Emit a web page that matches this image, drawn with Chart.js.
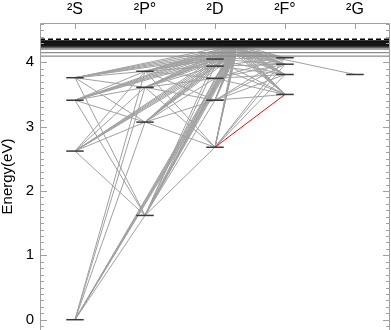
<!DOCTYPE html>
<html>
<head>
<meta charset="utf-8">
<script src="https://cdn.jsdelivr.net/npm/chart.js@4.4.1/dist/chart.umd.min.js"></script>
<style>
  html, body { margin: 0; padding: 0; background: #fff; overflow: hidden; }
  #wrap { width: 391px; height: 330px; }
</style>
</head>
<body>
<div id="wrap"><canvas id="grotrian"></canvas></div>
<script>
// term columns along the top
const terms = ['²S', '²P°', '²D', '²F°', '²G'];
const energyTicks = [0, 1, 2, 3, 4];

// levels: which term column, energy in eV
//                   S0  S1    S2    S3    P0    P1    P2    P3    D0    D1    D2    D3    D4    F0    F1    F2    F3    G0
const levelTerm   = [0,  0,    0,    0,    1,    1,    1,    1,    2,    2,    2,    2,    2,    3,    3,    3,    3,    4];
const levelEnergy = [0,  2.62, 3.41, 3.76, 1.62, 3.07, 3.61, 3.86, 2.68, 3.41, 3.75, 3.94, 4.05, 3.50, 3.81, 3.97, 4.07, 3.81];

// merged high levels, the lines run up to them
const highEnergy = [4.12, 4.16, 4.20, 4.24, 4.28];

// full width lines just below the limit
const bandEnergy = [4.096, 4.150, 4.204, 4.222, 4.235, 4.245, 4.255, 4.265, 4.275, 4.285, 4.295, 4.305, 4.315, 4.325, 4.333];
const limitEnergy = 4.359;

// transitions between levels (index into the arrays above)
const transitions = [
  [0, 4], [0, 5], [0, 6], [0, 7],
  [1, 4], [1, 5], [1, 6], [1, 7],
  [2, 4], [2, 5], [2, 6], [2, 7],
  [3, 4], [3, 5], [3, 6], [3, 7],
  [4, 8], [4, 9], [4, 10], [4, 11], [4, 12],
  [5, 8], [5, 9], [5, 10], [5, 11], [5, 12],
  [6, 8], [6, 9], [6, 10], [6, 11], [6, 12],
  [7, 8], [7, 9], [7, 10], [7, 11], [7, 12],
  [8, 14], [8, 15], [8, 16],
  [9, 13], [9, 14], [9, 15], [9, 16],
  [10, 13], [10, 14], [10, 15], [10, 16],
  [11, 13], [11, 14], [11, 15], [11, 16],
  [12, 13], [12, 14], [12, 15], [12, 16]
];

// levels joined to every merged high level
const highLevels = [0, 1, 2, 3, 4, 5, 6, 7, 8, 9, 10, 11, 12, 13, 14, 15, 16];
// the G level only has one
const gLink = [17, 2];

// the highlighted one
const redLine = [8, 13];

const HIGH_X = 2.3;
const HALF = 0.125;

const pt = i => ({ x: levelTerm[i], y: levelEnergy[i] });
const hp = k => ({ x: HIGH_X, y: highEnergy[k] });

const seg = (data, color, width, order, dash) => ({
  data: data,
  borderColor: color,
  borderWidth: width,
  borderDash: dash || [],
  pointRadius: 0,
  fill: false,
  tension: 0,
  order: order
});

const datasets = [];

transitions.forEach(([a, b]) => datasets.push(seg([pt(a), pt(b)], '#a0a0a0', 1, 5)));
highLevels.forEach(a => {
  highEnergy.forEach((e, k) => datasets.push(seg([pt(a), hp(k)], '#a0a0a0', 1, 5)));
});
datasets.push(seg([pt(gLink[0]), hp(gLink[1])], '#a0a0a0', 1, 5));

datasets.push(seg([pt(redLine[0]), pt(redLine[1])], '#ff0000', 1, 3));

levelEnergy.forEach((e, i) => {
  datasets.push(seg([{ x: levelTerm[i] - HALF, y: e }, { x: levelTerm[i] + HALF, y: e }], '#3a3a3a', 1.5, 2));
});

bandEnergy.forEach((e, i) => {
  let c;
  if (i < 3) c = '#8c8c8c';
  else if (i < 5) c = '#555555';
  else c = '#111111';
  datasets.push(seg([{ x: -0.5, y: e }, { x: 4.5, y: e }], c, 1.2, 1));
});

datasets.push(seg([{ x: -0.5, y: limitEnergy }, { x: 4.5, y: limitEnergy }], '#000000', 1.5, 0, [5, 3]));

// frame (left, top, right) and inward ticks
const frame = {
  id: 'frame',
  afterDraw(chart) {
    const { ctx, chartArea: a, scales } = chart;
    const l = a.left + 0.5, r = a.right - 0.5, t = a.top + 0.5;
    ctx.save();
    ctx.strokeStyle = '#a0a0a0';
    ctx.lineWidth = 1;
    ctx.beginPath();
    ctx.moveTo(l, a.bottom);
    ctx.lineTo(l, t);
    ctx.lineTo(r, t);
    ctx.lineTo(r, a.bottom);
    for (let i = -1; i <= 46; i++) {
      const y = Math.round(scales.y.getPixelForValue(i / 10)) + 0.5;
      if (y < a.top || y > a.bottom) continue;
      const len = i % 10 === 0 ? 7 : 4;
      ctx.moveTo(a.left, y);
      ctx.lineTo(a.left + len, y);
      ctx.moveTo(a.right, y);
      ctx.lineTo(a.right - len, y);
    }
    terms.forEach((name, i) => {
      const x = Math.round(scales.x.getPixelForValue(i)) + 0.5;
      ctx.moveTo(x, a.top);
      ctx.lineTo(x, a.top + 6);
    });
    ctx.stroke();
    ctx.restore();
  }
};

Chart.defaults.font.family = "'Liberation Sans', Arial, sans-serif";

new Chart(document.getElementById('grotrian'), {
  type: 'line',
  data: { datasets: datasets },
  plugins: [frame],
  options: {
    responsive: true,
    maintainAspectRatio: false,
    animation: false,
    layout: { padding: { top: 0, right: 1, bottom: 0, left: 0 } },
    plugins: { legend: { display: false }, tooltip: { enabled: false } },
    scales: {
      x: {
        type: 'linear',
        position: 'top',
        min: -0.5,
        max: 4.5,
        grid: { display: false, drawTicks: false },
        border: { display: false },
        afterBuildTicks: s => { s.ticks = terms.map((name, i) => ({ value: i })); },
        ticks: { callback: v => terms[v], padding: 4, font: { size: 16 }, color: '#000', autoSkip: false, maxRotation: 0 },
        afterFit: s => { s.height = 23; s.paddingLeft = 0; s.paddingRight = 0; }
      },
      y: {
        type: 'linear',
        min: -0.16,
        max: 4.61,
        grid: { display: false, drawTicks: false },
        border: { display: false },
        afterBuildTicks: s => { s.ticks = energyTicks.map(v => ({ value: v })); },
        ticks: { padding: 6, font: { size: 15 }, color: '#000' },
        title: { display: true, text: 'Energy(eV)', font: { size: 15, lineHeight: 1 }, color: '#000', padding: 0 },
        afterFit: s => { s.width = 40; s.paddingTop = 0; s.paddingBottom = 0; }
      }
    }
  }
});
</script>
</body>
</html>
